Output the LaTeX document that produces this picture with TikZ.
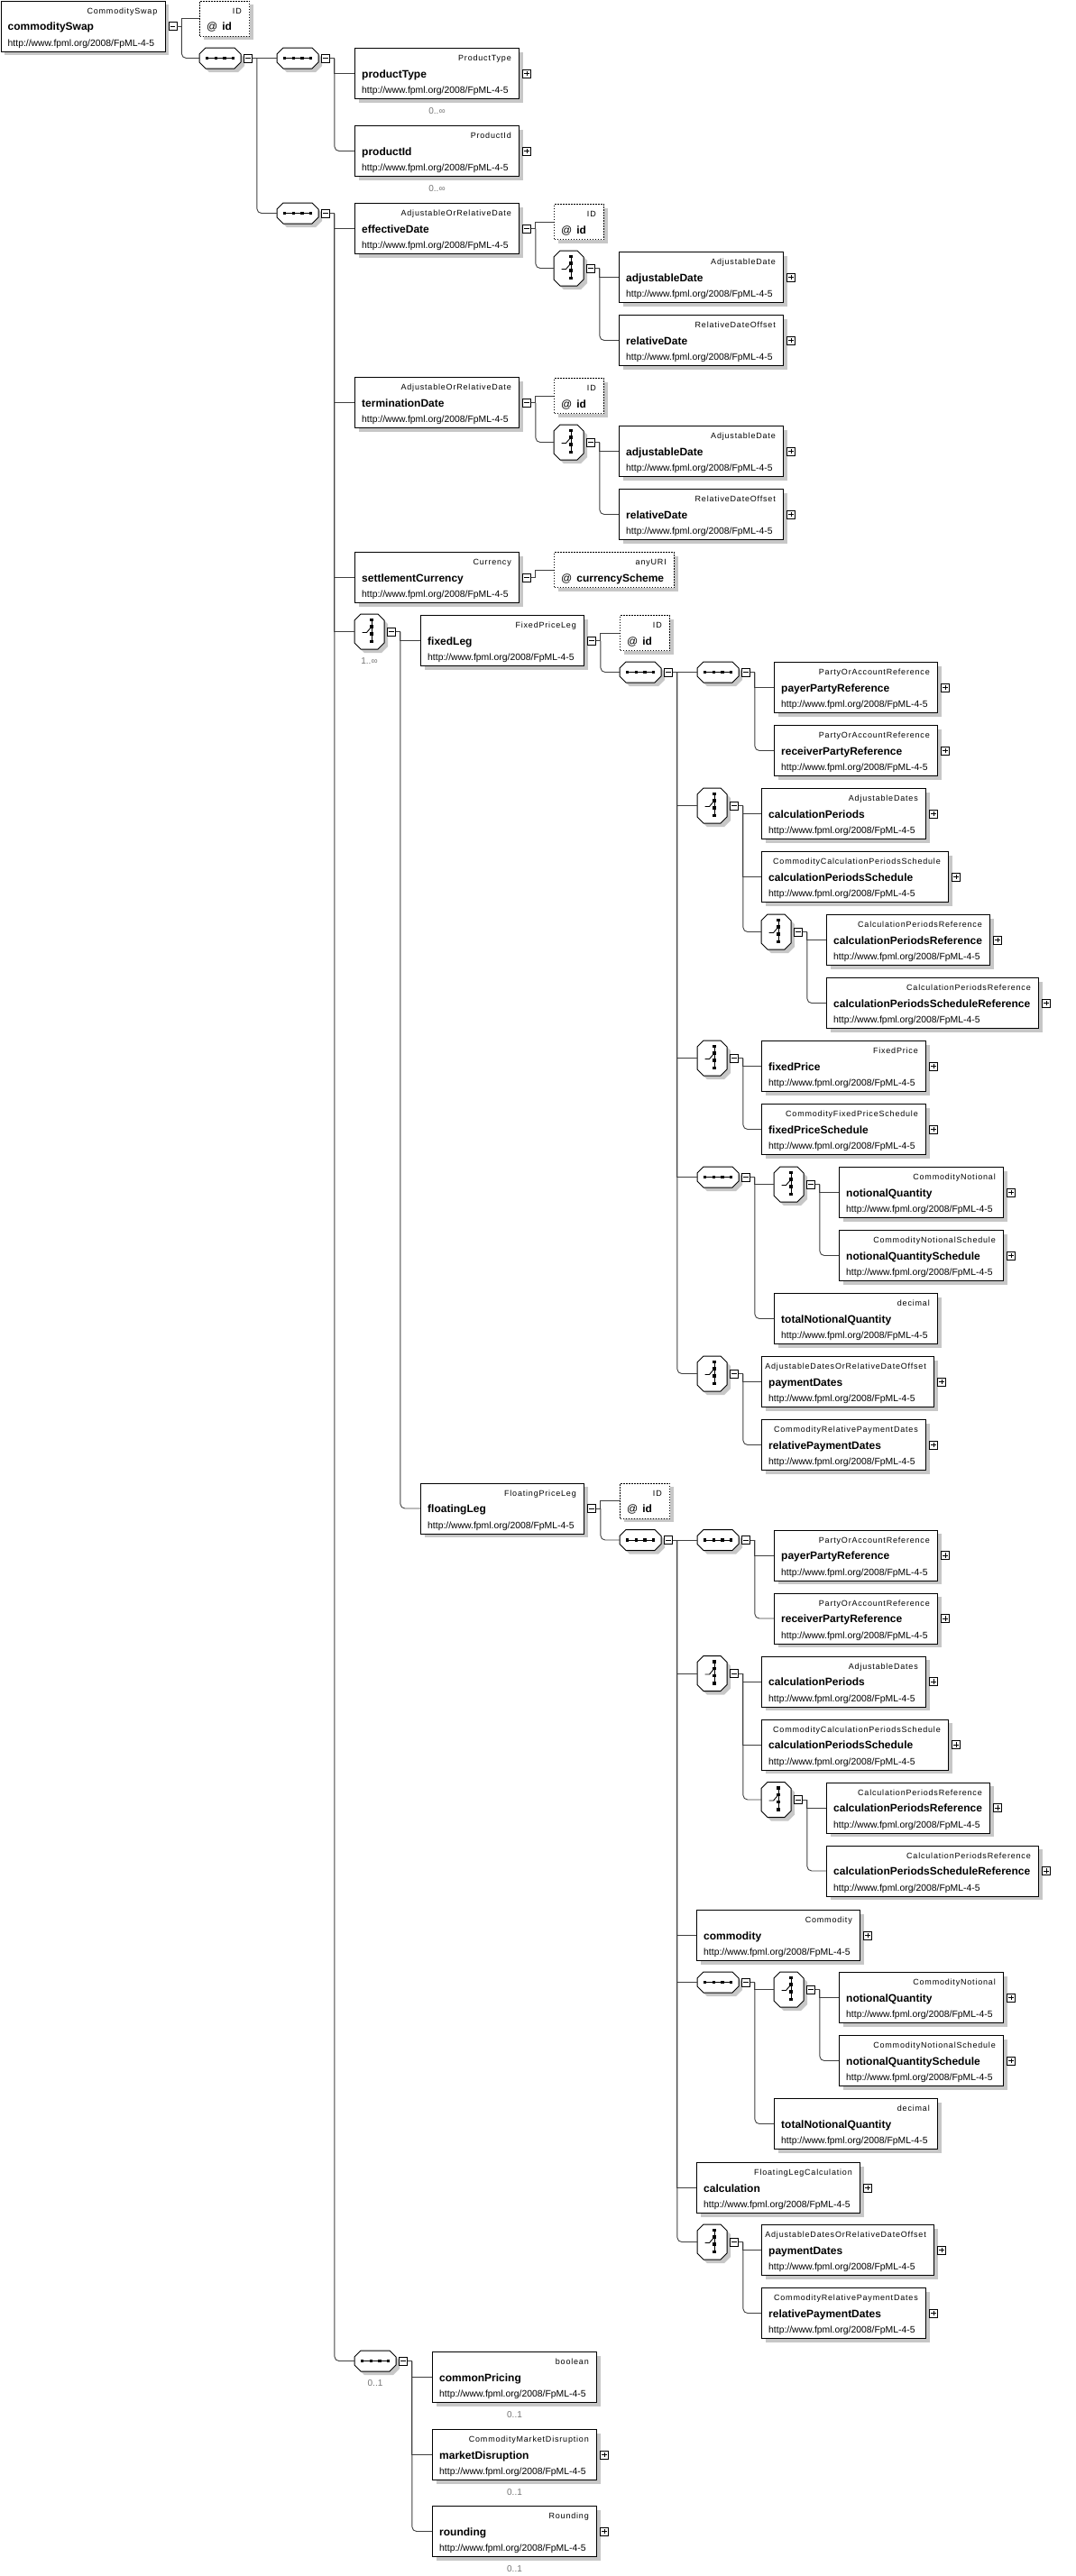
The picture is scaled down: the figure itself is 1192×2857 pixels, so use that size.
\documentclass[tikz,border=0pt]{standalone}
\usepackage{fontspec}
\setmainfont{Liberation Sans}
\newfontfamily\typefont[LetterSpace=9]{Liberation Sans}
\usetikzlibrary{shadows,positioning}

% element box: name, x, y (top), width, type, label
\newcommand{\elembox}[6]{%
  \node[elem, minimum width=#4pt] (#1) at (#2,#3) {};
  \node[typelbl] (#1-ty) at ([xshift=-9pt,yshift=-14.5pt]#1.north east) {#5};
  \node[namelbl] (#1-nm) at ([xshift=8pt,yshift=-33.3pt]#1.north west) {#6};
  \node[urllbl] (#1-url) at ([xshift=8pt,yshift=-50.5pt]#1.north west) {http://www.fpml.org/2008/FpML-4-5};
}
% attribute box: name, x, y (top), width, type, label
\newcommand{\attrbox}[6]{%
  \node[attr, minimum width=#4pt] (#1) at (#2,#3) {};
  \node[typelbl] (#1-ty) at ([xshift=-9pt,yshift=-14.5pt]#1.north east) {#5};
  \node[namelbl] (#1-nm) at ([xshift=8pt,yshift=-33.3pt]#1.north west) {{\mdseries @}\hspace{5pt}#6};
}
% octagon outline of a compositor node
\newcommand{\octo}[1]{%
  \draw[line width=1pt, fill=white, shade]
    ([xshift=7pt]#1.north west) -- ([xshift=-7pt]#1.north east) -- ([yshift=-7pt]#1.north east)
    -- ([yshift=7pt]#1.south east) -- ([xshift=-7pt]#1.south east) -- ([xshift=7pt]#1.south west)
    -- ([yshift=7pt]#1.south west) -- ([yshift=-7pt]#1.north west) -- cycle;
}
\newcommand{\seqdots}[1]{%
  \draw[line width=0.9pt] ([xshift=-14.5pt]#1.center) -- ([xshift=14.5pt]#1.center);
  \foreach \dx in {-14.5,-4.8,4.8,14.5}
    \fill ([xshift=\dx pt]#1.center) +(-1.7pt,-1.7pt) rectangle +(1.7pt,1.7pt);
}
\newcommand{\choicedots}[1]{%
  \draw[line width=0.9pt] ([xshift=2.5pt,yshift=13pt]#1.center) -- ([xshift=2.5pt,yshift=-11pt]#1.center);
  \draw[line width=0.9pt] ([xshift=-8pt,yshift=-1pt]#1.center) -- ([xshift=-3pt,yshift=-1pt]#1.center) -- ([xshift=2.5pt,yshift=5.5pt]#1.center);
  \foreach \dy in {13,5.5,-2.5,-11}
    \fill ([xshift=2.5pt,yshift=\dy pt]#1.center) +(-1.7pt,-1.7pt) rectangle +(1.7pt,1.7pt);
}
% connectors: parent, children above the last, last child
\newcommand{\kids}[3]{%
  \coordinate (#1-v) at ([xshift=5pt]#1-t.east);
  \draw[conn] (#1-t.east) -- (#1-v);
  \foreach \kid in {#2} {\draw[conn] (#1-v) |- (\kid.west);}
  \draw[conn, rounded corners=5pt] (#1-v) |- (#3.west);
}

\begin{document}
\begin{tikzpicture}[x=1pt, y=-1pt,
    shade/.style={drop shadow={shadow xshift=4pt, shadow yshift=-4pt, fill=black!22, opacity=1}},
    elem/.style={draw, line width=1pt, fill=white, anchor=north west, minimum height=56pt, inner sep=0pt, shade},
    attr/.style={elem, dash pattern=on 1.5pt off 1.5pt, minimum height=39pt},
    typelbl/.style={anchor=base east, inner sep=0pt, font=\typefont\fontsize{9}{10}\selectfont},
    namelbl/.style={anchor=base west, inner sep=0pt, font=\fontsize{12}{14}\selectfont\bfseries},
    urllbl/.style={anchor=base west, inner sep=0pt, font=\fontsize{10.4}{12}\selectfont},
    seqn/.style={rectangle, inner sep=0pt, outer sep=0pt, minimum width=46pt, minimum height=23pt,
      append after command={\pgfextra{\octo{\tikzlastnode}\seqdots{\tikzlastnode}}}},
    choicen/.style={rectangle, inner sep=0pt, outer sep=0pt, minimum width=33pt, minimum height=39pt,
      append after command={\pgfextra{\octo{\tikzlastnode}\choicedots{\tikzlastnode}}}},
    togm/.style={draw, fill=white, line width=0.8pt, minimum size=9pt, inner sep=0pt,
      path picture={\draw[black, line width=0.9pt] ([xshift=-2.7pt]path picture bounding box.center) -- ([xshift=2.7pt]path picture bounding box.center);}},
    togp/.style={draw, fill=white, line width=0.8pt, minimum size=9pt, inner sep=0pt,
      path picture={\draw[black, line width=0.9pt] ([xshift=-2.7pt]path picture bounding box.center) -- ([xshift=2.7pt]path picture bounding box.center)
        ([yshift=-2.7pt]path picture bounding box.center) -- ([yshift=2.7pt]path picture bounding box.center);}},
    conn/.style={draw=black!75, line width=0.9pt},
    occ/.style={inner sep=0pt, text=black!55, font=\fontsize{10}{12}\selectfont}]
\useasboundingbox (0,0) rectangle (1192,2857);

% root and first sequences
\elembox{cSwap}{0.5}{0.5}{182}{CommoditySwap}{commoditySwap}
\attrbox{cSwapId}{221}{0.5}{55}{ID}{id}
\node[seqn] (seqA) at (244,64.5) {};
\node[seqn] (seqB) at (330,64.5) {};
\elembox{prodType}{393}{53}{182}{ProductType}{productType}
\elembox{prodId}{393}{139}{182}{ProductId}{productId}
\node[seqn] (seqC) at (330,236.5) {};

% effective and termination dates
\foreach \pre/\dy/\nm in {eff/0/effectiveDate,term/193/terminationDate}{
  \elembox{\pre Date}{393}{225+\dy}{182}{AdjustableOrRelativeDate}{\nm}
  \attrbox{\pre Id}{614}{226+\dy}{55}{ID}{id}
  \node[choicen] (\pre Choice) at (630.5,297.5+\dy) {};
  \elembox{\pre Adj}{686}{279+\dy}{182}{AdjustableDate}{adjustableDate}
  \elembox{\pre Rel}{686}{349+\dy}{182}{RelativeDateOffset}{relativeDate}
}
\elembox{settleCur}{393}{612}{182}{Currency}{settlementCurrency}
\attrbox{curScheme}{614}{612}{133}{anyURI}{currencyScheme}
\node[choicen] (legChoice) at (409.5,700.5) {};

% parts shared by both legs
\foreach \pre/\dy/\nm/\ty in {fix/0/fixedLeg/FixedPriceLeg,flt/962.5/floatingLeg/FloatingPriceLeg}{
  \elembox{\pre Leg}{466}{682+\dy}{181}{\ty}{\nm}
  \attrbox{\pre Id}{687}{682+\dy}{55}{ID}{id}
  \node[seqn] (\pre Seq) at (710,745.5+\dy) {};
  \node[seqn] (\pre Party) at (796,745.5+\dy) {};
  \elembox{\pre Payer}{858}{734+\dy}{181}{PartyOrAccountReference}{payerPartyReference}
  \elembox{\pre Recv}{858}{804+\dy}{181}{PartyOrAccountReference}{receiverPartyReference}
  \node[choicen] (\pre Calc) at (789.5,893.5+\dy) {};
  \elembox{\pre Periods}{844}{874+\dy}{182}{AdjustableDates}{calculationPeriods}
  \elembox{\pre PerSched}{844}{944+\dy}{207}{CommodityCalculationPeriodsSchedule}{calculationPeriodsSchedule}
  \node[choicen] (\pre RefChoice) at (860.5,1033.5+\dy) {};
  \elembox{\pre PerRef}{916}{1014+\dy}{181}{CalculationPeriodsReference}{calculationPeriodsReference}
  \elembox{\pre PerSchedRef}{916}{1084+\dy}{235}{CalculationPeriodsReference}{calculationPeriodsScheduleReference}
}
\foreach \pre/\dn/\dp in {fix/0/0,flt/893/963}{
  \node[seqn] (\pre NotSeq) at (796,1305.5+\dn) {};
  \node[choicen] (\pre NotChoice) at (874.5,1313.5+\dn) {};
  \elembox{\pre Not}{930}{1294+\dn}{182}{CommodityNotional}{notionalQuantity}
  \elembox{\pre NotSched}{930}{1364+\dn}{182}{CommodityNotionalSchedule}{notionalQuantitySchedule}
  \elembox{\pre Total}{858}{1434+\dn}{181}{decimal}{totalNotionalQuantity}
  \node[choicen] (\pre PayChoice) at (789.5,1523.5+\dp) {};
  \elembox{\pre PayDates}{844}{1504+\dp}{191}{AdjustableDatesOrRelativeDateOffset}{paymentDates}
  \elembox{\pre RelPay}{844}{1574+\dp}{182}{CommodityRelativePaymentDates}{relativePaymentDates}
}
% fixed leg only
\node[choicen] (fixPriceChoice) at (789.5,1173.5) {};
\elembox{fixPrice}{844}{1154}{182}{FixedPrice}{fixedPrice}
\elembox{fixPriceSched}{844}{1224}{182}{CommodityFixedPriceSchedule}{fixedPriceSchedule}
% floating leg only
\elembox{fltComm}{772}{2118}{181}{Commodity}{commodity}
\elembox{fltCalcn}{772}{2398}{181}{FloatingLegCalculation}{calculation}

% optional group
\node[seqn] (optSeq) at (416,2618.5) {};
\elembox{pricing}{479}{2608}{182}{boolean}{commonPricing}
\elembox{disruption}{479}{2694}{182}{CommodityMarketDisruption}{marketDisruption}
\elembox{rounding}{479}{2779}{182}{Rounding}{rounding}

% occurrences
\node[occ, below=9pt of prodType] (prodType-occ) {0..∞};
\node[occ, below=9pt of prodId] (prodId-occ) {0..∞};
\node[occ, below=9pt of legChoice] (legChoice-occ) {1..∞};
\foreach \n in {optSeq,pricing,disruption,rounding}
  \node[occ, below=9pt of \n] (\n-occ) {0..1};

% toggles
\foreach \n in {cSwap,seqA,seqB,seqC,effDate,effChoice,termDate,termChoice,settleCur,legChoice,
    fixLeg,fixSeq,fixParty,fixCalc,fixRefChoice,fixPriceChoice,fixNotSeq,fixNotChoice,fixPayChoice,
    fltLeg,fltSeq,fltParty,fltCalc,fltRefChoice,fltNotSeq,fltNotChoice,fltPayChoice,optSeq}
  \node[togm] (\n-t) at ([xshift=8pt]\n.east) {};
\foreach \n in {prodType,prodId,effAdj,effRel,termAdj,termRel,
    fixPayer,fixRecv,fixPeriods,fixPerSched,fixPerRef,fixPerSchedRef,fixPrice,fixPriceSched,fixNot,fixNotSched,fixPayDates,fixRelPay,
    fltPayer,fltRecv,fltPeriods,fltPerSched,fltPerRef,fltPerSchedRef,fltComm,fltNot,fltNotSched,fltCalcn,fltPayDates,fltRelPay,
    disruption,rounding}
  \node[togp] (\n-t) at ([xshift=8pt]\n.east) {};

% connectors
\kids{cSwap}{cSwapId}{seqA}
\kids{seqA}{seqB}{seqC}
\kids{seqB}{prodType}{prodId}
\kids{seqC}{effDate,termDate,settleCur,legChoice}{optSeq}
\foreach \pre in {eff,term}{
  \kids{\pre Date}{\pre Id}{\pre Choice}
  \kids{\pre Choice}{\pre Adj}{\pre Rel}
}
\coordinate (settleCur-v) at ([xshift=5pt]settleCur-t.east);
\draw[conn] (settleCur-t.east) -- (settleCur-v) |- (curScheme.west);
\kids{legChoice}{fixLeg}{fltLeg}
\foreach \pre in {fix,flt}{
  \kids{\pre Leg}{\pre Id}{\pre Seq}
  \kids{\pre Party}{\pre Payer}{\pre Recv}
  \kids{\pre Calc}{\pre Periods,\pre PerSched}{\pre RefChoice}
  \kids{\pre RefChoice}{\pre PerRef}{\pre PerSchedRef}
  \kids{\pre NotSeq}{\pre NotChoice}{\pre Total}
  \kids{\pre NotChoice}{\pre Not}{\pre NotSched}
  \kids{\pre PayChoice}{\pre PayDates}{\pre RelPay}
}
\kids{fixSeq}{fixParty,fixCalc,fixPriceChoice,fixNotSeq}{fixPayChoice}
\kids{fixPriceChoice}{fixPrice}{fixPriceSched}
\kids{fltSeq}{fltParty,fltCalc,fltComm,fltNotSeq,fltCalcn}{fltPayChoice}
\kids{optSeq}{pricing,disruption}{rounding}

\end{tikzpicture}
\end{document}
